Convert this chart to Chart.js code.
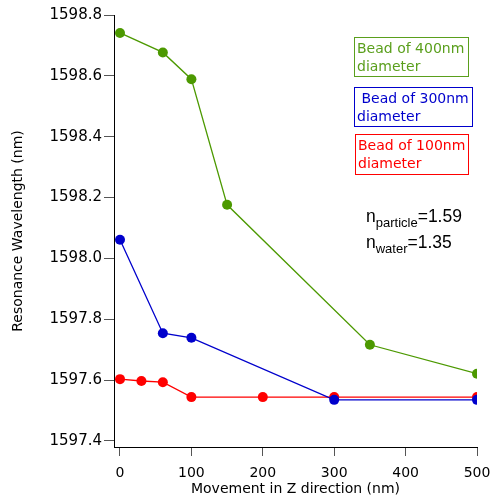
<!DOCTYPE html>
<html>
<head>
<meta charset="utf-8">
<script src="https://cdn.jsdelivr.net/npm/chart.js@4/dist/chart.umd.min.js"></script>
<style>
  html, body { margin: 0; padding: 0; background: #fff; }
  #wrap { position: relative; width: 493px; height: 501px; }
  canvas { position: absolute; left: 0; top: 0; }
  .box { position: absolute; box-sizing: border-box; border: 1px solid; font-family: "DejaVu Sans", sans-serif; font-size: 14px; line-height: 18px; padding: 1px 0 0 2px; white-space: pre; }
  .ann { position: absolute; font-family: "Liberation Sans", Arial, sans-serif; font-size: 17.5px; color: #000; white-space: nowrap; line-height: 17px; }
  .ann sub { font-size: 13px; vertical-align: -5px; line-height: 0; }
</style>
</head>
<body>
<div id="wrap">
  <canvas id="c" width="493" height="501"></canvas>
  <div class="box" style="left:354px;top:37px;width:115px;height:40px;color:#5a9f1c;border-color:#5a9f1c;">Bead of 400nm
diameter</div>
  <div class="box" style="left:354px;top:87px;width:119px;height:40px;color:#0000cc;border-color:#0000cc;"> Bead of 300nm
diameter</div>
  <div class="box" style="left:355px;top:134px;width:114px;height:41px;color:#ff0000;border-color:#ff0000;">Bead of 100nm
diameter</div>
  <div class="ann" style="left:366px;top:208px;">n<sub>particle</sub>=1.59</div>
  <div class="ann" style="left:366px;top:234px;">n<sub>water</sub>=1.35</div>
</div>
<script>
// Data
const xBead400 = [0, 60, 100, 150, 350, 500];
const yBead400 = [1598.741, 1598.677, 1598.589, 1598.176, 1597.716, 1597.621];
const xBead300 = [0, 60, 100, 300, 500];
const yBead300 = [1598.061, 1597.754, 1597.739, 1597.535, 1597.535];
const xBead100 = [0, 30, 60, 100, 200, 300, 500];
const yBead100 = [1597.603, 1597.597, 1597.593, 1597.544, 1597.544, 1597.544, 1597.544];
const xTicks = [0, 100, 200, 300, 400, 500];
const yTicks = [1597.4, 1597.6, 1597.8, 1598.0, 1598.2, 1598.4, 1598.6, 1598.8];

const pts = (xs, ys) => xs.map((x, i) => ({ x: x, y: ys[i] }));
const ds = (xs, ys, color) => ({
  data: pts(xs, ys), showLine: true, borderColor: color, backgroundColor: color,
  pointBackgroundColor: color, pointBorderColor: color, pointRadius: 5, pointHoverRadius: 5,
  borderWidth: 1.3, pointBorderWidth: 0, tension: 0
});

new Chart(document.getElementById('c'), {
  type: 'scatter',
  data: { datasets: [
    ds(xBead400, yBead400, '#4c9900'),
    ds(xBead300, yBead300, '#0000cc'),
    ds(xBead100, yBead100, '#ff0000')
  ]},
  options: {
    responsive: false, animation: false,
    layout: { padding: { top: 15, right: 16, left: 0, bottom: 0 } },
    plugins: { legend: { display: false }, tooltip: { enabled: false } },
    scales: {
      x: {
        type: 'linear', min: -8.4, max: 500,
        afterFit: s => { s.height = 54; s.paddingLeft = 0; s.paddingRight = 0; },
        afterBuildTicks: s => { s.ticks = xTicks.map(v => ({ value: v })); },
        border: { display: true, color: '#000', width: 1 },
        grid: { drawOnChartArea: false, drawTicks: true, tickLength: 9, color: '#555' },
        ticks: { color: '#000', padding: 9, font: { family: 'DejaVu Sans', size: 14 }, callback: v => String(v), maxRotation: 0 },
        title: { display: true, text: 'Movement in Z direction (nm)', color: '#000', font: { family: 'DejaVu Sans', size: 14 }, padding: { top: 0, bottom: 3 } }
      },
      y: {
        type: 'linear', min: 1597.38, max: 1598.8,
        afterFit: s => { s.width = 114; s.paddingTop = 0; s.paddingBottom = 0; },
        afterBuildTicks: s => { s.ticks = yTicks.map(v => ({ value: v })); },
        border: { display: true, color: '#000', width: 1 },
        grid: { drawOnChartArea: false, drawTicks: true, tickLength: 10, color: '#555' },
        ticks: { color: '#000', padding: 2, font: { family: 'DejaVu Sans', size: 15 }, callback: v => Number(v).toFixed(1) },
        title: { display: true, text: 'Resonance Wavelength (nm)', color: '#000', font: { family: 'DejaVu Sans', size: 14 }, padding: { top: 10, bottom: 0 } }
      }
    }
  }
});
</script>
</body>
</html>
